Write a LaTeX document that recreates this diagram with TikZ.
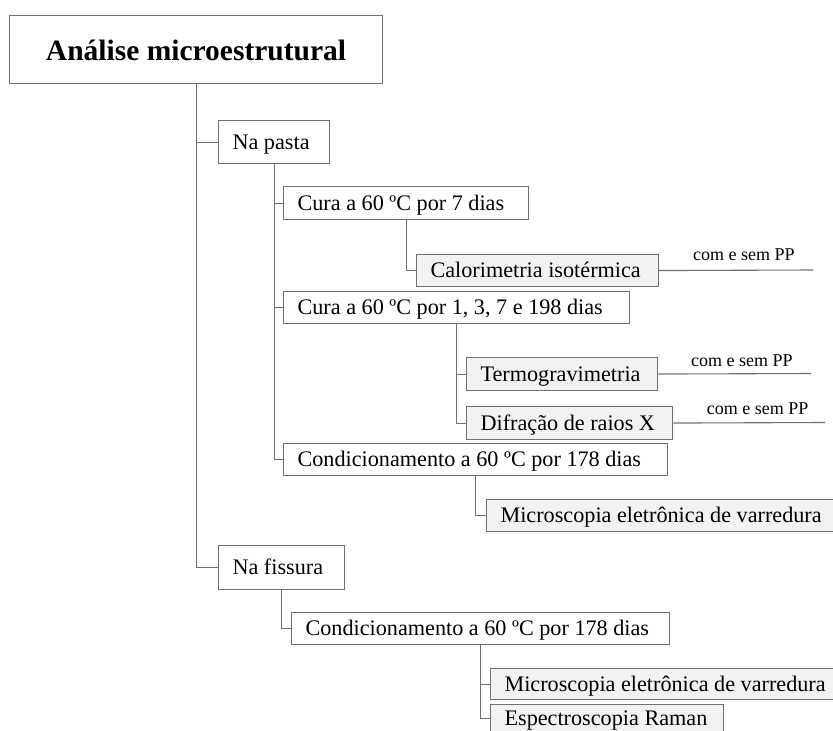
\documentclass[tikz,border=0pt]{standalone}
\usepackage{fontspec}
\setmainfont{Liberation Serif}
\definecolor{boxline}{RGB}{112,112,112}
\definecolor{boxfill}{RGB}{242,242,242}
\newcommand{\bt}[2]{\makebox[#1][l]{#2}}
\begin{document}
\begin{tikzpicture}[x=1pt,y=-1pt,
 bx/.style={draw=boxline, line width=1.1pt, rectangle, anchor=north west, inner xsep=14pt, inner ysep=0pt, font=\fontsize{22.2}{27}\selectfont, text height=14pt, text depth=0pt},
 gbx/.style={bx, fill=boxfill},
 conn/.style={draw=boxline, line width=1.1pt},
 lbl/.style={anchor=base west, inner sep=0pt, font=\fontsize{18}{21}\selectfont},
]
\useasboundingbox (0,0) rectangle (833,731);
\clip (0,0) rectangle (833,731);
\node[bx, minimum width=373pt, minimum height=68pt, inner xsep=0pt, font=\bfseries\fontsize{29.5}{34}\selectfont, text height=21pt] (title) at (9,15) {Análise microestrutural};
\node[bx, minimum height=43pt] (napasta) at (218,120) {\bt{83pt}{Na pasta}};
\node[bx, minimum height=33pt] (cura7) at (283,186) {\bt{217pt}{Cura a 60 ºC por 7 dias}};
\node[gbx, minimum height=32pt] (calor) at (416,254) {\bt{214pt}{Calorimetria isotérmica}};
\node[bx, minimum height=32pt] (cura1) at (283,291) {\bt{318pt}{Cura a 60 ºC por 1, 3, 7 e 198 dias}};
\node[gbx, minimum height=33pt] (termo) at (466,357) {\bt{163pt}{Termogravimetria}};
\node[gbx, minimum height=33pt] (difr) at (466,406) {\bt{178pt}{Difração de raios X}};
\node[bx, minimum height=32pt] (cond1) at (283,443) {\bt{356pt}{Condicionamento a 60 ºC por 178 dias}};
\node[gbx, minimum height=32pt] (micro1) at (486,499) {\bt{331pt}{Microscopia eletrônica de varredura}};
\node[bx, minimum height=44pt] (nafis) at (218,545) {\bt{98pt}{Na fissura}};
\node[bx, minimum height=32pt] (cond2) at (291,612) {\bt{350pt}{Condicionamento a 60 ºC por 178 dias}};
\node[gbx, minimum height=31pt] (micro2) at (490,668) {\bt{327pt}{Microscopia eletrônica de varredura}};
\node[gbx, minimum height=28pt] (espec) at (490,704) {\bt{205pt}{Espectroscopia Raman}};
\coordinate (e1) at (813,270);
\coordinate (e2) at (811,373.5);
\coordinate (e3) at (825,422.5);
\node[lbl] (l1) at (693,260.7) {com e sem PP};
\node[lbl] (l2) at (691,366) {com e sem PP};
\node[lbl] (l3) at (706.7,414) {com e sem PP};
\draw[conn] (title.south) |- (napasta.west);
\draw[conn] (title.south) |- (nafis.west);
\draw[conn] (napasta.south) |- (cura7.west);
\draw[conn] (napasta.south) |- (cura1.west);
\draw[conn] (napasta.south) |- (cond1.west);
\draw[conn] (cura7.south) |- (calor.west);
\draw[conn] (cura1.south) |- (termo.west);
\draw[conn] (cura1.south) |- (difr.west);
\draw[conn] (cond1.south) |- (micro1.west);
\draw[conn] (nafis.south) |- (cond2.west);
\draw[conn] (cond2.south) |- (micro2.west);
\draw[conn] (cond2.south) |- (espec.west);
\draw[conn] (calor.east) -- (e1);
\draw[conn] (termo.east) -- (e2);
\draw[conn] (difr.east) -- (e3);
\end{tikzpicture}
\end{document}
